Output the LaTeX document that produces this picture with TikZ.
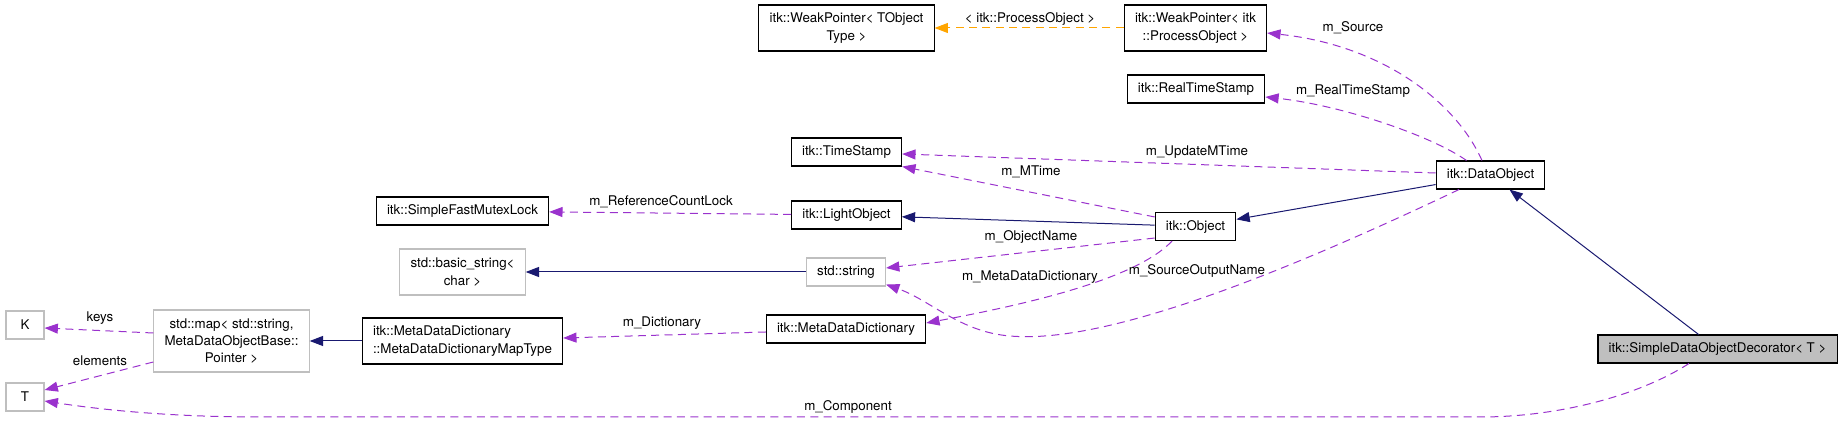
\documentclass[tikz,border=0pt]{standalone}
\usepackage{fontspec}
\setmainfont{TeX Gyre Heros}
\usetikzlibrary{arrows.meta}

\definecolor{inhblue}{RGB}{25,25,112}
\definecolor{usepurple}{RGB}{154,50,205}
\definecolor{tplorange}{RGB}{255,165,0}
\definecolor{boxgray}{RGB}{191,191,191}

\tikzset{
  cls/.style={draw=black, fill=white, line width=0.8pt, inner xsep=8pt, inner ysep=2pt,
    minimum height=21pt, minimum width=28.5pt, align=center,
    font=\fontsize{10}{13}\selectfont},
  ext/.style={cls, draw=boxgray},
  cur/.style={cls, fill=boxgray},
  h2/.style={minimum height=34.5pt},
  h3/.style={minimum height=46.5pt},
  inh/.style={draw=inhblue, line width=0.75pt, -{Triangle[length=10pt,width=7.5pt]}},
  use/.style={draw=usepurple, line width=0.75pt, dash pattern=on 6pt off 4pt,
    -{Triangle[length=10pt,width=7.5pt]}},
  tpl/.style={draw=tplorange, line width=0.75pt, dash pattern=on 6pt off 4pt,
    -{Triangle[length=10pt,width=7.5pt]}},
  lbl/.style={inner sep=0pt, font=\fontsize{10}{13}\selectfont}
}

\begin{document}
\begin{tikzpicture}[x=0.75pt, y=-0.75pt]
\useasboundingbox (0,0) rectangle (1843,423);

% classes
\node[cls,h2] (wpT) at (846.5,28) {itk::WeakPointer< TObject\\Type >};
\node[cls,h2] (wpP) at (1195.5,28) {itk::WeakPointer< itk\\::ProcessObject >};
\node[cls] (rts) at (1196,89) {itk::RealTimeStamp};
\node[cls] (ts) at (846.5,152) {itk::TimeStamp};
\node[cls] (sfml) at (462.5,211) {itk::SimpleFastMutexLock};
\node[cls] (lobj) at (846.5,215) {itk::LightObject};
\node[cls] (obj) at (1195.5,226.5) {itk::Object};
\node[cls] (dobj) at (1490.5,175) {itk::DataObject};
\node[ext,h2] (bstr) at (462.5,272) {std::basic\_string<\\char >};
\node[ext] (str) at (846,272) {std::string};
\node[ext] (keyK) at (25,325) {K};
\node[ext,h3] (smap) at (231.5,341) {std::map< std::string,\\MetaDataObjectBase::\\Pointer >};
\node[cls,h2,align=left] (mapt) at (462.5,341) {itk::MetaDataDictionary\\::MetaDataDictionaryMapType};
\node[cls] (mdd) at (846,329) {itk::MetaDataDictionary};
\node[ext] (valT) at (25,397) {T};
\node[cur] (deco) at (1717.5,349) {itk::SimpleDataObjectDecorator< T >};

% inheritance
\draw[inh] (deco) -- (dobj);
\draw[inh] (dobj) -- (obj);
\draw[inh] (obj) -- (lobj);
\draw[inh] (str) -- (bstr);
\draw[inh] (mapt) -- (smap);

% template instance
\draw[tpl] (wpP) -- (wpT);
\node[lbl] (lpo) at (1030,19) {< itk::ProcessObject >};

% members
\draw[use] ([xshift=-6.4pt]dobj.north) .. controls (1455,100) and (1380,45) .. ([yshift=-3.75pt]wpP.east);
\node[lbl] (lsrc) at (1353,28) {m\_Source};
\draw[use] ([xshift=-18pt]dobj.north) .. controls (1430,135) and (1340,105) .. ([yshift=-6pt]rts.east);
\node[lbl] (lrts) at (1353,91) {m\_RealTimeStamp};
\draw[use] ([yshift=1.5pt]dobj.west) -- ([yshift=-1.5pt]ts.east);
\node[lbl] (lumt) at (1197,152) {m\_UpdateMTime};
\draw[use] ([yshift=-3.75pt]obj.north west) -- (ts.south east);
\node[lbl] (lmt) at (1031,172) {m\_MTime};
\draw[use] (lobj) -- (sfml);
\node[lbl] (lrcl) at (661,202) {m\_ReferenceCountLock};
\draw[use] ([yshift=2.25pt]obj.south west) -- ([yshift=3pt]str.east);
\node[lbl] (lon) at (1031,237) {m\_ObjectName};
\draw[use] ([xshift=-17.6pt]obj.south) .. controls (1140,275) and (1050,300) .. ([yshift=4.5pt]mdd.east);
\node[lbl] (lmdd) at (1030,277) {m\_MetaDataDictionary};
\draw[use] ([xshift=-23.6pt]dobj.south) .. controls (1300,265) and (1110,345) .. (1010,336)
  .. controls (960,332) and (930,300) .. ([yshift=1.5pt]str.south east);
\node[lbl] (lson) at (1197,271) {m\_SourceOutputName};
\draw[use] ([yshift=-2.25pt]mdd.west) -- ([yshift=2.25pt]mapt.east);
\node[lbl] (ldic) at (662,323) {m\_Dictionary};
\draw[use] ([yshift=6pt]smap.west) -- ([yshift=-2.25pt]keyK.east);
\node[lbl] (lkey) at (100,318) {keys};
\draw[use] ([yshift=-15.75pt]smap.west) -- ([yshift=5.25pt]valT.east);
\node[lbl] (lele) at (100,361) {elements};
\draw[use] ([xshift=-21.4pt]deco.south) .. controls (1640,395) and (1560,417) .. (1480,417)
  -- (260,417) .. controls (160,417) and (90,408) .. ([yshift=-3pt]valT.east);
\node[lbl] (lcmp) at (848,407) {m\_Component};

\end{tikzpicture}
\end{document}
